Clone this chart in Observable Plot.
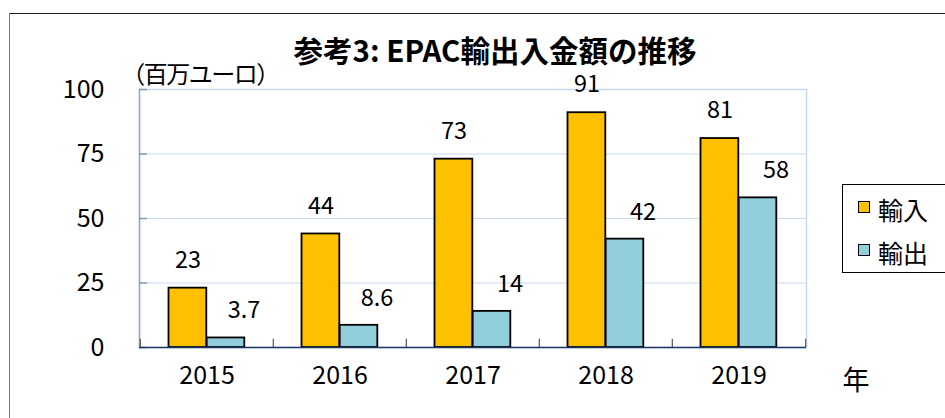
<!DOCTYPE html>
<html><head><meta charset="utf-8">
<script src="https://cdn.jsdelivr.net/npm/d3@7"></script>
<script src="https://cdn.jsdelivr.net/npm/@observablehq/plot@0.6"></script>
<style>
body{margin:0;background:#fff;font-family:"Noto Sans CJK JP",sans-serif;color:#000;}
#wrap{position:relative;width:945px;height:418px;overflow:hidden;background:#fff;}
#wrap svg{position:absolute;left:0;top:0;}
.ov{position:absolute;white-space:nowrap;line-height:1;transform:translate(-50%,-50%);}
#frame{position:absolute;left:9px;top:13px;width:1000px;height:500px;border-top:1px solid #222;border-left:1px solid #7a7a7a;}
#legend{position:absolute;left:842px;top:184px;width:140px;height:87px;border:1px solid #000;background:#fff;}
.item{position:absolute;left:15px;display:flex;align-items:center;font-size:25px;line-height:1;}
.sw{width:10px;height:10px;border:1px solid #000;margin-right:8px;position:relative;top:-3px;}
</style></head><body><div id="wrap"><div id="frame"></div></div>
<script>
const years = ["2015","2016","2017","2018","2019"];
const imports = [23, 44, 73, 91, 81];
const exports = [3.7, 8.6, 14, 42, 58];
const seriesNames = ["輸入","輸出"];
const seriesColors = ["#FFC000","#92CDDC"];
const yTicks = [0, 25, 50, 75, 100];
const titleText = "参考3: EPAC輸出入金額の推移";
const unitText = "（百万ユーロ）";
const xUnitText = "年";

const rows = years.map((y,i)=>({year:y, imp:imports[i], exp:exports[i]}));
const half = (806-139)/5/2;

const chart = Plot.plot({
  width: 945, height: 418,
  marginLeft: 139, marginRight: 139, marginTop: 89, marginBottom: 71,
  style: {fontFamily: '"Noto Sans CJK JP", sans-serif', color: "#000", background: "transparent"},
  x: {domain: years, padding: 0},
  y: {domain: [0, 100]},
  marks: [
    Plot.gridY(yTicks.slice(1), {stroke: "#C6D9F1", strokeOpacity: 1}),
    Plot.frame({stroke: "#C6D9F1", strokeWidth: 1.5}),
    Plot.frame({anchor: "left", stroke: "#9AA9BE", strokeWidth: 1.5}),
    Plot.tickY(yTicks, {y: d=>d, insetRight: 659, stroke: "#8A98AC", strokeWidth: 1.5}),
    Plot.ruleX(years, {x: d=>d, y1: 0, y2: 3.2, dx: -half, stroke: "#555", strokeWidth: 1.2}),
    Plot.ruleX([years[years.length-1]], {x: d=>d, y1: 0, y2: 3.2, dx: half, stroke: "#555", strokeWidth: 1.2}),
    Plot.barY(rows, {x: "year", y: "imp", fill: seriesColors[0], stroke: "#000", strokeWidth: 1.8, insetLeft: 28.5, insetRight: 66.7}),
    Plot.barY(rows, {x: "year", y: "exp", fill: seriesColors[1], stroke: "#000", strokeWidth: 1.8, insetLeft: 66.7, insetRight: 28.7}),
    Plot.ruleY([0], {stroke: "#1F3864", strokeWidth: 1.5}),
    Plot.text(rows, {x: "year", y: "imp", text: d=>String(d.imp), dx: -19, dy: -28, fontSize: 23.5, fill: "#000"}),
    Plot.text(rows, {x: "year", y: "exp", text: d=>String(d.exp), dx: 37, dy: -27, fontSize: 23.5, fill: "#000"}),
    Plot.axisX({tickSize: 0, tickPadding: 19, fontSize: 25, label: null}),
    Plot.axisY({ticks: yTicks, tickSize: 0, tickPadding: 35, fontSize: 25, label: null})
  ]
});
const wrap = document.getElementById("wrap");
wrap.appendChild(chart);

function ov(text, x, y, css){
  const d = document.createElement("div");
  d.className = "ov"; d.textContent = text;
  d.style.left = x + "px"; d.style.top = y + "px";
  Object.assign(d.style, css);
  wrap.appendChild(d);
}
ov(titleText, 495, 50, {fontSize: "29.5px", fontWeight: "bold", lineHeight: "0.8"});
ov(unitText, 200, 73, {fontSize: "24px", letterSpacing: "-1.5px"});
ov(xUnitText, 856, 378, {fontSize: "27px"});

const lg = document.createElement("div"); lg.id = "legend";
seriesNames.forEach((n,i)=>{
  const it = document.createElement("div"); it.className = "item";
  it.style.top = (i===0 ? 12 : 55) + "px";
  const sw = document.createElement("span"); sw.className = "sw"; sw.style.background = seriesColors[i];
  const t = document.createElement("span"); t.textContent = n;
  it.appendChild(sw); it.appendChild(t); lg.appendChild(it);
});
wrap.appendChild(lg);
</script></body></html>
